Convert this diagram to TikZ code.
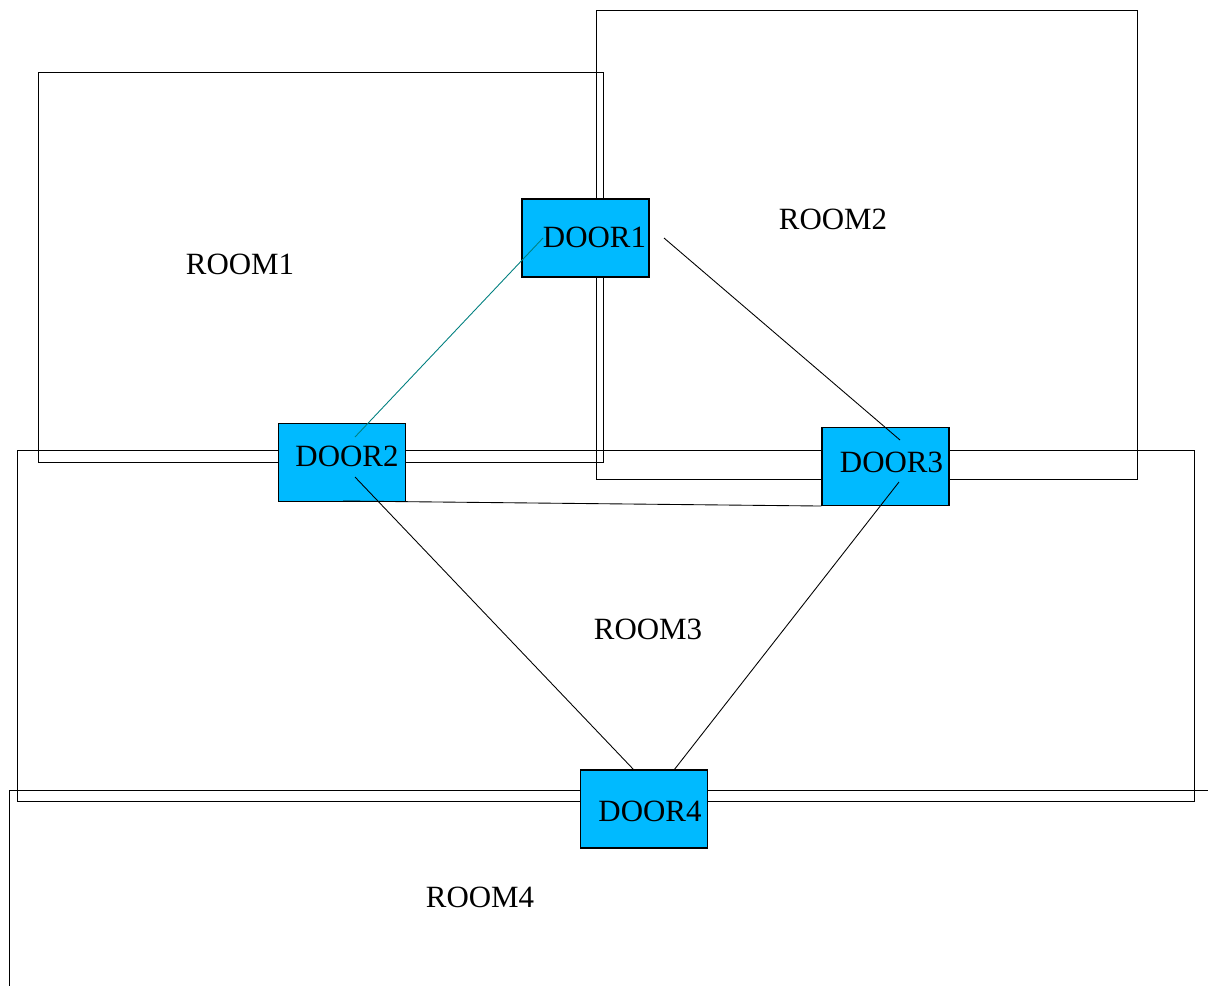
\documentclass[tikz,border=0pt]{standalone}
\usepackage{fontspec}
\setmainfont{Liberation Serif}
\usetikzlibrary{calc}
\definecolor{doorblue}{RGB}{0,186,255}
\definecolor{linkteal}{RGB}{0,128,128}
\tikzset{
  room/.style={draw=black, line width=0.45pt},
  door/.style={draw=black, fill=doorblue, line width=0.6pt, inner sep=0pt,
    minimum width=2.54cm, minimum height=1.56cm},
  lbl/.style={inner sep=0pt, font=\fontsize{17.6}{20}\selectfont},
  link/.style={draw=black, line width=0.5pt},
}
\begin{document}
\begin{tikzpicture}[x=0.02cm, y=-0.02cm]
\clip (0,0) rectangle (1208,985);
\fill[white] (0,0) rectangle (1208,985);

% room outlines
\draw[room] (38,72) rectangle (603,462);
\draw[room] (596,10) rectangle (1137,479);
\draw[room] (17,450) rectangle (1194,801);
\draw[room] (9,790) rectangle (1240,1020);

% room names
\node[lbl] (r1) at (240,264) {ROOM1};
\node[lbl] (r2) at (833,219) {ROOM2};
\node[lbl] (r3) at (648,629) {ROOM3};
\node[lbl] (r4) at (480,897) {ROOM4};

% doors
\node[door] (d1) at (585.5,238) {};
\node[door] (d2) at (342,462.5) {};
\node[door] (d3) at (885.5,466.5) {};
\node[door] (d4) at (644,809) {};

\node[lbl] (t1) at ($(d1)+(9,-1)$) {DOOR1};
\node[lbl] (t2) at ($(d2)+(5,-6.5)$) {DOOR2};
\node[lbl] (t3) at ($(d3)+(6,-4.5)$) {DOOR3};
\node[lbl] (t4) at ($(d4)+(6,2)$) {DOOR4};

% passages between doors
\draw[link, draw=linkteal] ($(d1)+(-42.5,0)$) -- ($(d2)+(13,-25.5)$);
\draw[link] ($(d1)+(78.5,0)$) -- ($(d3)+(14.5,-26.5)$);
\draw[link] ($(d2)+(1,38.5)$) -- (d3.south west);
\draw[link] ($(d2)+(13,14.5)$) -- ($(d4)+(-10,-39)$);
\draw[link] ($(d3)+(13.5,15.5)$) -- ($(d4)+(30,-39)$);
\end{tikzpicture}
\end{document}
